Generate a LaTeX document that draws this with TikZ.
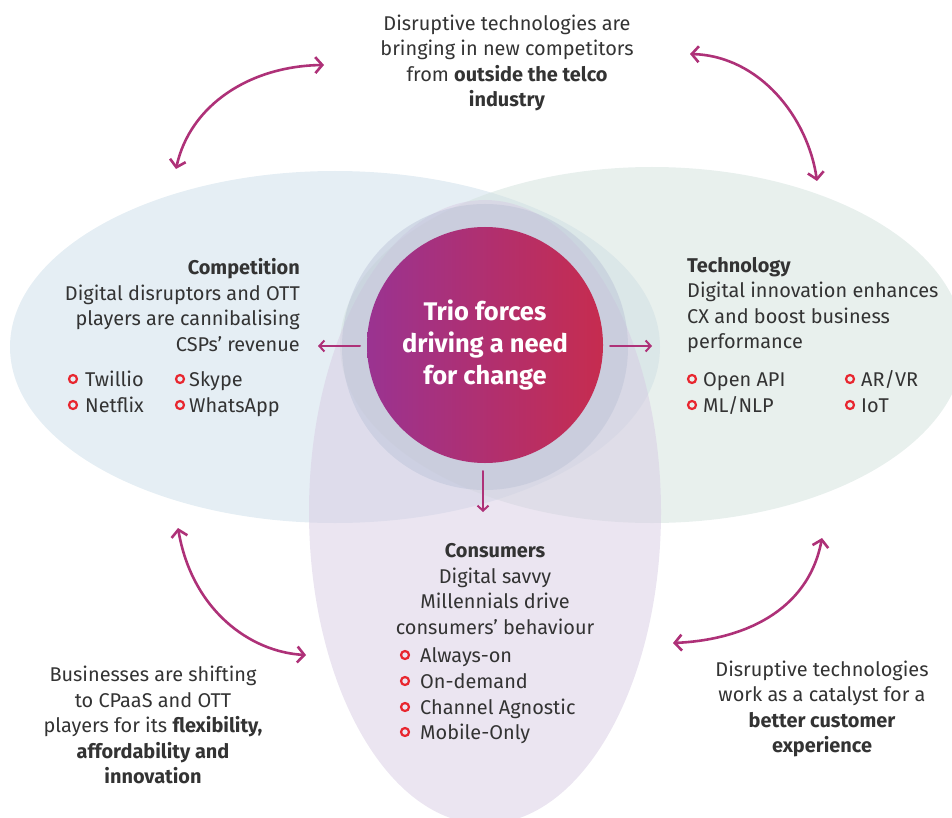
\documentclass[tikz,border=0pt]{standalone}
\usepackage{fontspec}
\setmainfont{Fira Sans}
\usetikzlibrary{arrows.meta}
\definecolor{txt}{HTML}{333333}
\definecolor{compfill}{HTML}{CBDDE9}
\definecolor{techfill}{HTML}{D2E1DC}
\definecolor{consfill}{HTML}{D7CBE3}
\definecolor{halo}{HTML}{B9C0D6}
\definecolor{purp}{HTML}{9A3391}
\definecolor{crim}{HTML}{C62C4F}
\definecolor{arr}{HTML}{AE3178}
\definecolor{ring}{HTML}{E8262F}
\tikzset{
  body/.style={font=\fontsize{19.9}{25.5}\selectfont, text=txt, inner sep=0pt},
  block/.style={body, align=#1},
  item/.style={body, anchor=base west},
  bulletring/.style={circle, draw=ring, line width=2.2pt, minimum size=8pt, inner sep=0pt},
  swing/.style={draw=arr, line width=2.6pt, line cap=round,
    {Straight Barb[length=7pt,width=16pt,line width=2.6pt]}-{Straight Barb[length=7pt,width=16pt,line width=2.6pt]}},
  push/.style={draw=arr, line width=2pt, line cap=round,
    -{Straight Barb[length=5pt,width=11pt,line width=2pt]}},
}
\begin{document}
\begin{tikzpicture}[x=1pt,y=-1pt]
\useasboundingbox (0,0) rectangle (952,818);
\clip (0,0) rectangle (952,818);

% the three overlapping fields
\fill[compfill, fill opacity=0.5] (335,347) ellipse [x radius=325pt, y radius=176pt];
\fill[techfill, fill opacity=0.5] (652,345) ellipse [x radius=312pt, y radius=178pt];
\fill[consfill, fill opacity=0.5] (485,512) ellipse [x radius=176pt, y radius=312pt];

% core
\fill[halo, fill opacity=0.45] (485,347) circle [radius=143pt];
\node[circle, minimum size=236pt, inner sep=0pt, left color=purp, right color=crim,
      text=white, align=center, font=\bfseries\fontsize{25.5}{32}\selectfont] (core) at (485,345)
  {Trio forces\\driving a need\\for change};

% outward pushes from the core
\coordinate (pl0) at (360,346); \coordinate (pl1) at (318,346);
\coordinate (pr0) at (610,346); \coordinate (pr1) at (652,346);
\coordinate (pd0) at (483,471); \coordinate (pd1) at (483,512);
\draw[push] (pl0) -- (pl1);
\draw[push] (pr0) -- (pr1);
\draw[push] (pd0) -- (pd1);

% top statement
\node[block=center] (top) at (507,63)
  {Disruptive technologies are\\bringing in new competitors\\from \textbf{outside the telco}\\\textbf{industry}};

% competition
\node[block=right, anchor=east] (comp) at (300,305)
  {\textbf{Competition}\\Digital disruptors and OTT\\players are cannibalising\\CSPs’ revenue};
\node[bulletring] (cb1) at (73,379) {};
\node[bulletring] (cb2) at (73,405) {};
\node[bulletring] (cb3) at (180,379) {};
\node[bulletring] (cb4) at (180,405) {};
\node[item] (ct1) at (85,386) {Twillio};
\node[item] (ct2) at (85,412) {Netflix};
\node[item] (ct3) at (189,386) {Skype};
\node[item] (ct4) at (189,412) {WhatsApp};

% technology
\node[block=left, anchor=west] (tech) at (687,305)
  {\textbf{Technology}\\Digital innovation enhances\\CX and boost business\\performance};
\node[bulletring] (tb1) at (692,379) {};
\node[bulletring] (tb2) at (692,405) {};
\node[bulletring] (tb3) at (850,379) {};
\node[bulletring] (tb4) at (850,405) {};
\node[item] (tt1) at (703,386) {Open API};
\node[item] (tt2) at (703,412) {ML/NLP};
\node[item] (tt3) at (861,386) {AR/VR};
\node[item] (tt4) at (861,412) {IoT};

% consumers
\node[block=center] (cons) at (495,589)
  {\textbf{Consumers}\\Digital savvy\\Millennials drive\\consumers’ behaviour};
\node[bulletring] (nb1) at (405,655) {};
\node[bulletring] (nb2) at (405,681) {};
\node[bulletring] (nb3) at (405,707) {};
\node[bulletring] (nb4) at (405,732) {};
\node[item] (nt1) at (420,662) {Always-on};
\node[item] (nt2) at (420,688) {On-demand};
\node[item] (nt3) at (420,714) {Channel Agnostic};
\node[item] (nt4) at (420,739) {Mobile-Only};

% lower statements
\node[block=center] (lowl) at (153,725)
  {Businesses are shifting\\to CPaaS and OTT\\players for its \textbf{flexibility,}\\\textbf{affordability and}\\\textbf{innovation}};
\node[block=center] (lowr) at (822,709)
  {Disruptive technologies\\work as a catalyst for a\\\textbf{better customer}\\\textbf{experience}};

% linking swings
\coordinate (s1a) at (176,169); \coordinate (s1b) at (324,65);
\coordinate (s2a) at (690,54);  \coordinate (s2b) at (817,181);
\coordinate (s3a) at (178,528); \coordinate (s3b) at (306,655);
\coordinate (s4a) at (822,538); \coordinate (s4b) at (673,643);
\draw[swing] (s1a) .. controls (190,105) and (250,66) .. (s1b);
\draw[swing] (s2a) .. controls (760,56) and (808,118) .. (s2b);
\draw[swing] (s3a) .. controls (192,610) and (250,652) .. (s3b);
\draw[swing] (s4a) .. controls (808,612) and (742,640) .. (s4b);
\end{tikzpicture}
\end{document}
